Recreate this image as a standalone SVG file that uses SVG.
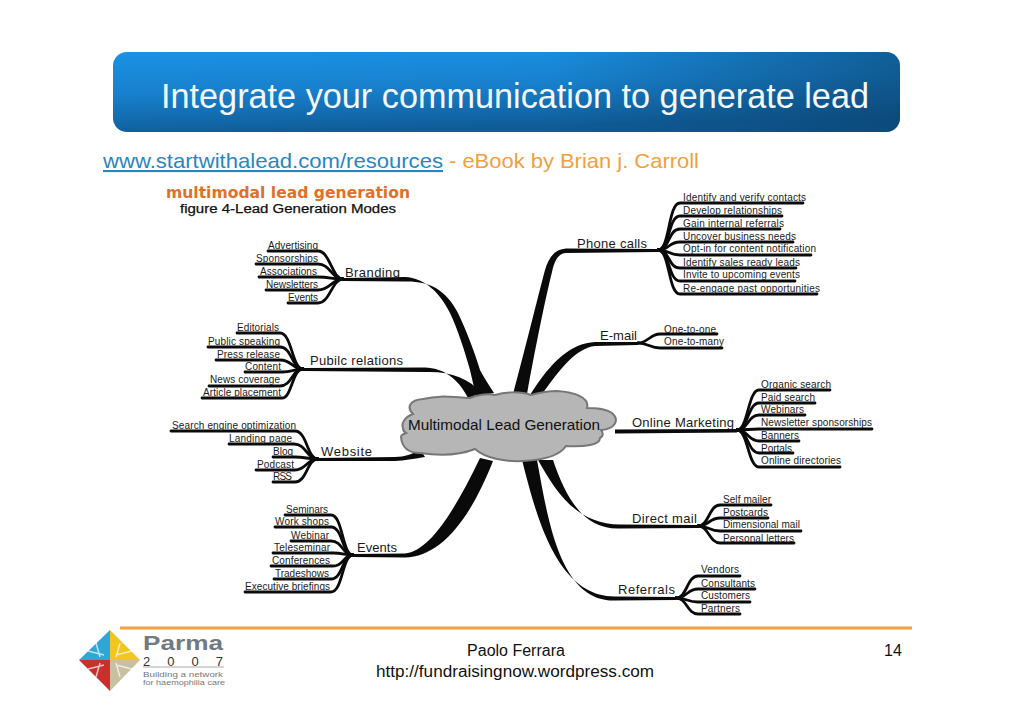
<svg xmlns="http://www.w3.org/2000/svg" width="1030" height="728" viewBox="0 0 1030 728">
<defs>
<linearGradient id="bar" x1="0" y1="0" x2="0.25" y2="1"><stop offset="0" stop-color="#1a92e6"/><stop offset="0.5" stop-color="#1880cc"/><stop offset="1" stop-color="#0f5c98"/></linearGradient>
<linearGradient id="bar2" x1="0" y1="0" x2="1" y2="0"><stop offset="0.55" stop-color="#0a3c64" stop-opacity="0"/><stop offset="1" stop-color="#0a3c64" stop-opacity="0.55"/></linearGradient>
</defs>
<style>
text{font-family:"Liberation Sans",Arial,sans-serif;fill:#111}
.leaf{font-size:10px;fill:#1a1a1a}
.branch{font-size:13px;fill:#1a1a1a}
.foot{font-size:16px;fill:#111}
.lk path{fill:none;stroke:#0a0a0a;stroke-width:2.8;stroke-linecap:round}
.tr path{fill:#0a0a0a;stroke:none}
</style>
<rect width="1030" height="728" fill="#fff"/>
<g id="title">
<rect x="113" y="52" width="787" height="80" rx="14" fill="url(#bar)"/>
<rect x="113" y="52" width="787" height="80" rx="14" fill="url(#bar2)"/>
<text x="161" y="108" font-size="34.3" style="fill:#f4f8fc" textLength="708" lengthAdjust="spacingAndGlyphs">Integrate your communication to generate lead</text>
</g>
<g id="source">
<text x="103" y="168" font-size="21" style="fill:#2a86c0;text-decoration:underline" textLength="340" lengthAdjust="spacingAndGlyphs">www.startwithalead.com/resources</text>
<text x="449" y="168" font-size="21" style="fill:#f0a040" textLength="250" lengthAdjust="spacingAndGlyphs">- eBook by Brian j. Carroll</text>
</g>
<g id="heading">
<text x="166" y="198" font-size="16" font-weight="bold" style="font-family:'DejaVu Sans',sans-serif;fill:#e0712a" textLength="244" lengthAdjust="spacingAndGlyphs">multimodal lead generation</text>
<text x="180" y="213" font-size="12" style="fill:#111;stroke:#111;stroke-width:0.25" textLength="216" lengthAdjust="spacingAndGlyphs">figure 4-Lead Generation Modes</text>
</g>
<g id="connectors">
<g class="tr">
<path d="M343,278 L405,277 C425,278 440,293 450,313 C458,330 465,352 470,370 L476,396 L494,393 C489,385 484,378 480,370 C474,350 466,330 458,313 C446,290 430,281 405,281.5 L343,281Z"/>
<path d="M303,368 L425,367.5 C443,368 458,378 468,398 L482,393 C468,378 450,371 425,372 L303,371Z"/>
<path d="M318,458 L395,457 C405,456.5 412,455 420,449 L425,457 C412,459 405,460.5 395,461 L318,461Z"/>
<path d="M353,554 L405,553.5 C430,551 455,510 480,458 L493,461 C470,520 440,557 405,557.5 L353,557Z"/>
<path d="M658,249 L566,248.5 C556,249 549,256 545,270 C537,300 525,350 513,394 L527,394 C535,350 545,300 552,272 C555,258 560,253 566,253 L658,252Z"/>
<path d="M638,342 L595,342 C572,343 552,360 530,395 L541,396 C560,368 577,348 595,346 L638,345Z"/>
<path d="M615,429.5 L737,429 L737,432.5 L615,433.5Z"/>
<path d="M538,460 C555,490 575,524 620,524.5 L698,525 L698,528 L620,528.5 C582,530 565,495 553,460Z"/>
<path d="M522,460 C535,510 555,597 615,596.5 L676,597 L676,600 L615,600.5 C560,602 548,520 537,460Z"/>
</g>
<g class="lk">
<path d="M268,251 H318 C330,251 332,279 343,279"/>
<path d="M256,264 H318 C330,264 332,279 343,279"/>
<path d="M259,277 H318 C330,277 332,279 343,279"/>
<path d="M266,290 H318 C330,290 332,279 343,279"/>
<path d="M288,303 H318 C330,303 332,279 343,279"/>
<path d="M237,333 H280 C292,333 292,369 303,369"/>
<path d="M208,347 H280 C292,347 292,369 303,369"/>
<path d="M216,360 H280 C292,360 292,369 303,369"/>
<path d="M245,372 H282 C292,372 295,369 303,369"/>
<path d="M209,386 H280 C292,386 292,369 303,369"/>
<path d="M202,398 H282 C292,398 292,369 303,369"/>
<path d="M171,431 H295 C307,431 307,459 318,459"/>
<path d="M229,444 H294 C306,444 307,459 318,459"/>
<path d="M273,457 H295 C305,457 308,459 318,459"/>
<path d="M256,470 H295 C306,470 307,459 318,459"/>
<path d="M273,482 H295 C307,482 307,459 318,459"/>
<path d="M285,515 H331 C343,515 342,555 353,555"/>
<path d="M275,527 H331 C343,527 342,555 353,555"/>
<path d="M291,541 H331 C343,541 342,555 353,555"/>
<path d="M273,553 H333 C343,553 345,555 353,555"/>
<path d="M271,566 H333 C344,566 343,555 353,555"/>
<path d="M274,579 H331 C343,579 342,555 353,555"/>
<path d="M245,592 H331 C343,592 342,555 353,555"/>
<path d="M803,203 H680 C668,203 670,250 658,250"/>
<path d="M782,216 H680 C668,216 670,250 658,250"/>
<path d="M780,229 H680 C668,229 670,250 658,250"/>
<path d="M793,242 H680 C668,242 670,250 658,250"/>
<path d="M811,255 H680 C668,255 670,250 658,250"/>
<path d="M796,268 H680 C668,268 670,250 658,250"/>
<path d="M795,281 H680 C668,281 670,250 658,250"/>
<path d="M817,294 H680 C668,294 670,250 658,250"/>
<path d="M717,334 H660 C650,334 648,343 638,343"/>
<path d="M722,348 H660 C650,348 648,343 638,343"/>
<path d="M830,390 H759 C748,390 748,430 737,430"/>
<path d="M815,403 H759 C748,403 748,430 737,430"/>
<path d="M805,415 H759 C748,415 748,430 737,430"/>
<path d="M872,429 H759 C748,429 748,430 737,430"/>
<path d="M799,441 H759 C748,441 748,430 737,430"/>
<path d="M793,453 H759 C748,453 748,430 737,430"/>
<path d="M840,467 H759 C748,467 748,430 737,430"/>
<path d="M771,505 H720 C709,505 709,526 698,526"/>
<path d="M768,518 H720 C709,518 709,526 698,526"/>
<path d="M801,531 H720 C709,531 709,526 698,526"/>
<path d="M794,543 H720 C709,543 709,526 698,526"/>
<path d="M740,576 H698 C687,576 687,598 676,598"/>
<path d="M755,589 H698 C687,589 687,598 676,598"/>
<path d="M750,602 H698 C687,602 687,598 676,598"/>
<path d="M740,614 H698 C687,614 687,598 676,598"/>
</g>
</g>
<g id="center">
<path d="M401,437 C402,448 408,453 420,453 C440,456 460,455 475,449 C485,458 505,462 523,461 C545,460 560,455 566,446 C585,447 600,445 600,438 C604,436 603,432 601,430 C615,429 620,420 612,413 C605,408 595,408 587,408 C590,398 575,392 557,391 C545,391 538,393 531,395 C520,391 505,392 495,395 C485,393 478,395 470,398 C450,397 440,395 423,399 C410,400 406,407 413,414 C405,417 401,423 403,428 C403,431 404,432 406,433 C403,434 401,435 401,437Z" fill="#b6b6b6" stroke="#777" stroke-width="2"/>
<text x="408" y="430" font-size="14.5" style="fill:#111" textLength="192" lengthAdjust="spacingAndGlyphs">Multimodal Lead Generation</text>
</g>
<g id="branding"><text class="branch" x="345" y="277" textLength="55">Branding</text></g>
<g id="public-relations"><text class="branch" x="310" y="365" textLength="93">Pubilc relations</text></g>
<g id="website"><text class="branch" x="321" y="456" textLength="51">Website</text></g>
<g id="events"><text class="branch" x="357" y="552" textLength="40">Events</text></g>
<g id="phone-calls"><text class="branch" x="577" y="248" textLength="70">Phone calls</text></g>
<g id="e-mail"><text class="branch" x="600" y="340" textLength="37">E-mail</text></g>
<g id="online-marketing"><text class="branch" x="632" y="427" textLength="102">Online Marketing</text></g>
<g id="direct-mail"><text class="branch" x="632" y="523" textLength="65">Direct mail</text></g>
<g id="referrals"><text class="branch" x="618" y="594" textLength="57">Referrals</text></g>
<g id="leaves-branding">
<g id="l-advertising"><text class="leaf" x="268" y="249" textLength="50">Advertising</text></g>
<g id="l-sponsorships"><text class="leaf" x="256" y="262" textLength="62">Sponsorships</text></g>
<g id="l-associations"><text class="leaf" x="260" y="275" textLength="57">Associations</text></g>
<g id="l-newsletters"><text class="leaf" x="266" y="288" textLength="52">Newsletters</text></g>
<g id="l-events"><text class="leaf" x="288" y="301" textLength="30">Events</text></g>
</g>
<g id="leaves-pr">
<g id="l-editorials"><text class="leaf" x="237" y="331" textLength="42">Editorials</text></g>
<g id="l-public-speaking"><text class="leaf" x="208" y="345" textLength="72">Public speaking</text></g>
<g id="l-press-release"><text class="leaf" x="217" y="358" textLength="63">Press release</text></g>
<g id="l-content"><text class="leaf" x="245" y="370" textLength="36">Content</text></g>
<g id="l-news-coverage"><text class="leaf" x="210" y="383" textLength="70">News coverage</text></g>
<g id="l-article-placement"><text class="leaf" x="203" y="396" textLength="78">Article placement</text></g>
</g>
<g id="leaves-website">
<g id="l-seo"><text class="leaf" x="172" y="429" textLength="124">Search engine optimization</text></g>
<g id="l-landing-page"><text class="leaf" x="229" y="442" textLength="63">Landing page</text></g>
<g id="l-blog"><text class="leaf" x="273" y="455" textLength="20">Blog</text></g>
<g id="l-podcast"><text class="leaf" x="257" y="468" textLength="37">Podcast</text></g>
<g id="l-rss"><text class="leaf" x="273" y="480" textLength="19">RSS</text></g>
</g>
<g id="leaves-events">
<g id="l-seminars"><text class="leaf" x="286" y="513" textLength="42">Seminars</text></g>
<g id="l-work-shops"><text class="leaf" x="275" y="525" textLength="54">Work shops</text></g>
<g id="l-webinar"><text class="leaf" x="291" y="539" textLength="38">Webinar</text></g>
<g id="l-teleseminar"><text class="leaf" x="274" y="551" textLength="56">Teleseminar</text></g>
<g id="l-conferences"><text class="leaf" x="272" y="564" textLength="58">Conferences</text></g>
<g id="l-tradeshows"><text class="leaf" x="275" y="577" textLength="54">Tradeshows</text></g>
<g id="l-executive"><text class="leaf" x="245" y="590" textLength="85">Executive briefings</text></g>
</g>
<g id="leaves-phone">
<g id="l-identify"><text class="leaf" x="683" y="201" textLength="123">Identify and verify contacts</text></g>
<g id="l-develop"><text class="leaf" x="683" y="214" textLength="99">Develop relationships</text></g>
<g id="l-gain"><text class="leaf" x="683" y="227" textLength="101">Gain internal referrals</text></g>
<g id="l-uncover"><text class="leaf" x="683" y="240" textLength="113">Uncover business needs</text></g>
<g id="l-opt"><text class="leaf" x="683" y="252" textLength="133">Opt-in for content notification</text></g>
<g id="l-sales"><text class="leaf" x="683" y="266" textLength="117">Identify sales ready leads</text></g>
<g id="l-invite"><text class="leaf" x="683" y="278" textLength="117">Invite to upcoming events</text></g>
<g id="l-reengage"><text class="leaf" x="683" y="292" textLength="137">Re-engage past opportunities</text></g>
</g>
<g id="leaves-email">
<g id="l-one-one"><text class="leaf" x="664" y="333" textLength="52">One-to-one</text></g>
<g id="l-one-many"><text class="leaf" x="664" y="345" textLength="60">One-to-many</text></g>
</g>
<g id="leaves-online">
<g id="l-organic"><text class="leaf" x="761" y="388" textLength="70">Organic search</text></g>
<g id="l-paid"><text class="leaf" x="761" y="401" textLength="54">Paid search</text></g>
<g id="l-webinars"><text class="leaf" x="761" y="413" textLength="43">Webinars</text></g>
<g id="l-newsletter-sp"><text class="leaf" x="761" y="426" textLength="111">Newsletter sponsorships</text></g>
<g id="l-banners"><text class="leaf" x="761" y="439" textLength="38">Banners</text></g>
<g id="l-portals"><text class="leaf" x="761" y="452" textLength="31">Portals</text></g>
<g id="l-directories"><text class="leaf" x="761" y="464" textLength="80">Online directories</text></g>
</g>
<g id="leaves-direct">
<g id="l-self"><text class="leaf" x="723" y="503" textLength="48">Self mailer</text></g>
<g id="l-postcards"><text class="leaf" x="723" y="516" textLength="45">Postcards</text></g>
<g id="l-dimensional"><text class="leaf" x="723" y="528" textLength="77">Dimensional mail</text></g>
<g id="l-personal"><text class="leaf" x="723" y="542" textLength="71">Personal letters</text></g>
</g>
<g id="leaves-referrals">
<g id="l-vendors"><text class="leaf" x="701" y="573" textLength="38">Vendors</text></g>
<g id="l-consultants"><text class="leaf" x="701" y="587" textLength="54">Consultants</text></g>
<g id="l-customers"><text class="leaf" x="701" y="599" textLength="49">Customers</text></g>
<g id="l-partners"><text class="leaf" x="701" y="612" textLength="39">Partners</text></g>
</g>
<g id="footer">
<path d="M120,628 H912" stroke="#f0a040" stroke-width="3"/>
<text class="foot" x="516" y="656" text-anchor="middle">Paolo Ferrara</text>
<text class="foot" x="376" y="677" textLength="278" lengthAdjust="spacingAndGlyphs">http://fundraisingnow.wordpress.com</text>
<text class="foot" x="884" y="656">14</text>
</g>
<g id="logo">
<path d="M79,660 L110,630 V660Z" fill="#2fa6d8"/>
<path d="M110,630 L140,660 H110Z" fill="#f2c520"/>
<path d="M79,660 H110 V691Z" fill="#c8302c"/>
<path d="M110,660 H140 L110,691Z" fill="#c8c0a0"/>
<path d="M88,651 L104,655 M96,643 L100,657 M120,643 L116,657 M132,651 L116,655 M88,669 L104,665 M96,677 L100,663 M120,677 L116,663 M132,669 L116,665" stroke="#fff" stroke-opacity="0.7" stroke-width="1.5"/>
<text x="143" y="650" font-size="20" font-weight="bold" style="fill:#6f7a82" textLength="80" lengthAdjust="spacingAndGlyphs">Parma</text>
<text x="143" y="665.5" font-size="13" style="fill:#333" textLength="80">2007</text>
<path d="M143,667 H224" stroke="#888" stroke-width="0.7"/>
<text x="143" y="676.5" font-size="8" style="fill:#777" textLength="80" lengthAdjust="spacingAndGlyphs">Building a network</text>
<text x="143" y="685" font-size="7.5" style="fill:#777" textLength="82" lengthAdjust="spacingAndGlyphs">for haemophilia care</text>
</g>
</svg>
